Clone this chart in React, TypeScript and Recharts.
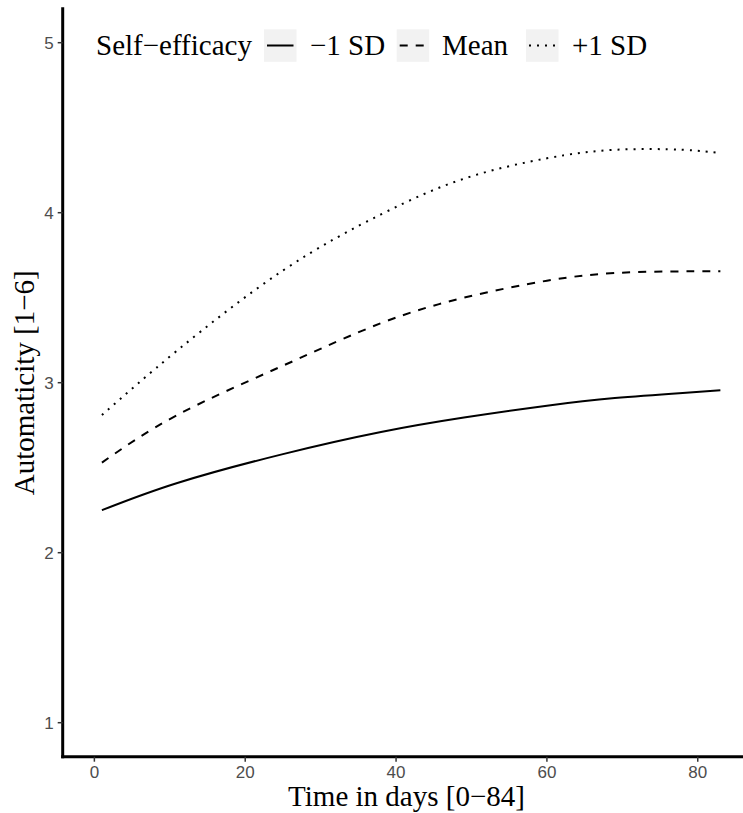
import React from "react";
import { LineChart, Line, XAxis, YAxis, Legend } from "recharts";

const days = [1, 11, 25, 38, 49, 60, 69, 78, 83];
const minusSD = [2.25, 2.41, 2.58, 2.71, 2.795, 2.865, 2.91, 2.94, 2.955];
const meanSE = [2.53, 2.81, 3.1, 3.35, 3.5, 3.6, 3.645, 3.655, 3.655];
const plusSD = [2.81, 3.19, 3.66, 3.99, 4.2, 4.32, 4.37, 4.37, 4.35];

const seriesNames = ["\u22121 SD", "Mean", "+1 SD"];
const xTicks = [0, 20, 40, 60, 80];
const yTicks = [1, 2, 3, 4, 5];

const data = days.map((d, i) => ({
  day: d,
  [seriesNames[0]]: minusSD[i],
  [seriesNames[1]]: meanSE[i],
  [seriesNames[2]]: plusSD[i],
}));

const dashes: Record<string, string | undefined> = {
  [seriesNames[0]]: undefined,
  [seriesNames[1]]: "8 8",
  [seriesNames[2]]: "2 6",
};

const serif = "'Liberation Serif', 'Times New Roman', serif";
const sans = "'Liberation Sans Narrow', 'Liberation Sans', Arial, sans-serif";

const boxX = [264, 396.7, 526];
const labelX = [310, 442, 572];

const serifStyle = { fontFamily: serif, fontSize: 29 };

const LegendContent = () => {
  return (
    <svg width={743} height={70} style={{ display: "block" }}>
      <text x={96} y={55} style={serifStyle} fill="#000">
        Self{"\u2212"}efficacy
      </text>
      {seriesNames.map((name, i) => (
        <g key={name}>
          <rect x={boxX[i]} y={29.3} width={32.5} height={32.5} fill="#f2f2f2" />
          <line
            x1={boxX[i] + 3}
            x2={boxX[i] + 29.5}
            y1={45.5}
            y2={45.5}
            stroke="#000"
            strokeWidth={2}
            strokeDasharray={dashes[name]}
          />
          <text x={labelX[i]} y={55} style={serifStyle} fill="#000">
            {name}
          </text>
        </g>
      ))}
    </svg>
  );
};

export default function App() {
  return (
    <div
      style={{
        position: "absolute",
        left: 0,
        top: 0,
        width: 743,
        height: 813,
        overflow: "hidden",
        background: "#fff",
      }}
    >
      <LineChart
        width={770}
        height={813}
        data={data}
        margin={{ top: 8.7, right: 10.4, left: 0, bottom: 0 }}
      >
        <XAxis
          dataKey="day"
          type="number"
          domain={[-4.2, 88.2]}
          ticks={xTicks}
          height={56.3}
          axisLine={{ stroke: "#000", strokeWidth: 3, strokeLinecap: "square" }}
          tickLine={{ stroke: "#333", strokeWidth: 1.5 }}
          tickSize={5}
          tickMargin={4}
          tick={{ fill: "#4d4d4d", fontSize: 17, fontFamily: sans }}
          label={() => (
            <text
              x={406.5}
              y={806}
              textAnchor="middle"
              style={serifStyle}
              fill="#000"
            >
              Time in days [0{"\u2212"}84]
            </text>
          )}
        />
        <YAxis
          type="number"
          domain={[0.8, 5.2]}
          ticks={yTicks}
          width={62.7}
          allowDataOverflow
          axisLine={{ stroke: "#000", strokeWidth: 3, strokeLinecap: "square" }}
          tickLine={{ stroke: "#333", strokeWidth: 1.5 }}
          tickSize={5}
          tickMargin={4}
          tick={{ fill: "#4d4d4d", fontSize: 17, fontFamily: sans }}
          label={() => (
            <text
              x={34}
              y={382.7}
              transform="rotate(-90 34 382.7)"
              textAnchor="middle"
              style={serifStyle}
              fill="#000"
            >
              Automaticity [1{"\u2212"}6]
            </text>
          )}
        />
        <Legend
          layout="vertical"
          align="center"
          verticalAlign="middle"
          wrapperStyle={{ top: 0, left: 0, width: 743, height: 70 }}
          content={LegendContent}
        />
        {seriesNames.map((name) => (
          <Line
            key={name}
            dataKey={name}
            type="natural"
            stroke="#000"
            strokeWidth={2}
            strokeDasharray={dashes[name]}
            dot={false}
            activeDot={false}
            isAnimationActive={false}
          />
        ))}
      </LineChart>
    </div>
  );
}
